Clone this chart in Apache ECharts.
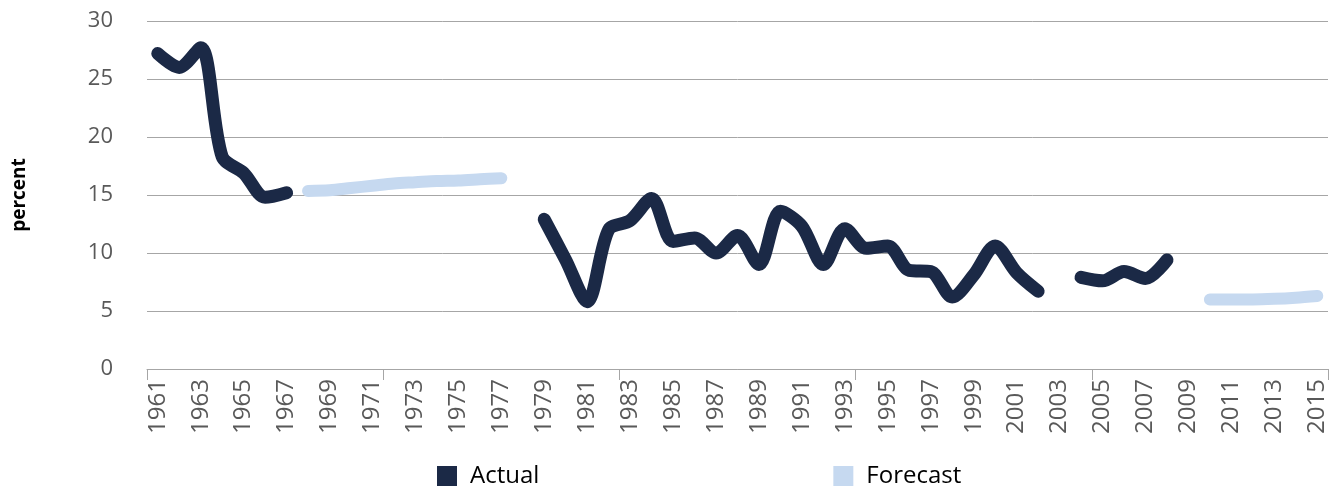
<!DOCTYPE html>
<html>
<head>
<meta charset="utf-8">
<script src="https://cdn.jsdelivr.net/npm/echarts@6/dist/echarts.min.js"></script>
<style>html,body{margin:0;padding:0;background:#fff}#c{width:1330px;height:489px}</style>
</head>
<body>
<div id="c"></div>
<script>
var years = [];
for (var y = 1961; y <= 2015; y++) years.push(String(y));

// Actual values, one per year 1961-2015 (null = no data)
var actual1961_1967 = [27.2, 26.0, 27.7, 18.3, 16.9, 14.8, 15.2];
var actual1979_2002 = [12.9, 9.4, 5.8, 12.0, 12.8, 14.7, 11.0, 11.3, 10.0, 11.5, 9.0, 13.6, 12.3, 9.0, 12.1, 10.4, 10.6, 8.5, 8.4, 6.2, 8.1, 10.6, 8.3, 6.7];
var actual2004_2008 = [7.9, 7.6, 8.4, 7.8, 9.4];
// Forecast values
var forecast1968_1977 = [15.35, 15.4, 15.6, 15.8, 16.0, 16.1, 16.2, 16.25, 16.35, 16.45];
var forecast2010_2015 = [6.0, 6.0, 6.0, 6.05, 6.15, 6.3];

function fill(n) { var a = []; for (var i = 0; i < n; i++) a.push(null); return a; }
function place(target, startYear, vals) {
  for (var i = 0; i < vals.length; i++) target[startYear - 1961 + i] = vals[i];
}
var actual = fill(years.length);
place(actual, 1961, actual1961_1967);
place(actual, 1979, actual1979_2002);
place(actual, 2004, actual2004_2008);
var forecast = fill(years.length);
place(forecast, 1968, forecast1968_1977);
place(forecast, 2010, forecast2010_2015);

var chart = echarts.init(document.getElementById('c'));
chart.setOption({
  animation: false,
  grid: { left: 147, right: 2, top: 21, bottom: 120 },
  legend: {
    left: 432, top: 459,
    itemWidth: 20, itemHeight: 20, itemGap: 294,
    icon: 'rect',
    textStyle: { fontFamily: 'Open Sans', fontSize: 24, color: '#000', padding: [0, 0, 0, 8] },
    data: ['Actual', 'Forecast']
  },
  xAxis: {
    type: 'category',
    data: years,
    boundaryGap: true,
    axisLine: { lineStyle: { color: '#a6a6a6', width: 1 } },
    axisTick: { show: true, interval: 10, length: 11, lineStyle: { color: '#a6a6a6' } },
    axisLabel: { interval: 1, rotate: 90, fontFamily: 'Open Sans', fontSize: 24, color: '#595959', margin: 10 }
  },
  yAxis: {
    type: 'value',
    min: 0, max: 30, interval: 5,
    name: 'percent',
    nameLocation: 'middle',
    nameRotate: 90,
    nameGap: 118,
    nameTextStyle: { fontFamily: 'Open Sans', fontWeight: 'bold', fontSize: 19, color: '#000' },
    axisLine: { show: false },
    axisTick: { show: false },
    axisLabel: { fontFamily: 'Open Sans', fontSize: 22, color: '#595959', margin: 34 },
    splitLine: { lineStyle: { color: '#a6a6a6', width: 1 } }
  },
  series: [
    {
      name: 'Actual', type: 'line', data: actual, smooth: 0.3, showSymbol: false, symbol: 'none',
      connectNulls: false,
      itemStyle: { color: '#1b2946' },
      lineStyle: { color: '#1b2946', width: 13, cap: 'round', join: 'round' }
    },
    {
      name: 'Forecast', type: 'line', data: forecast, smooth: 0.3, showSymbol: false, symbol: 'none',
      connectNulls: false,
      itemStyle: { color: '#c6d9f0' },
      lineStyle: { color: '#c6d9f0', width: 12, cap: 'round', join: 'round' }
    }
  ]
});
</script>
</body>
</html>
